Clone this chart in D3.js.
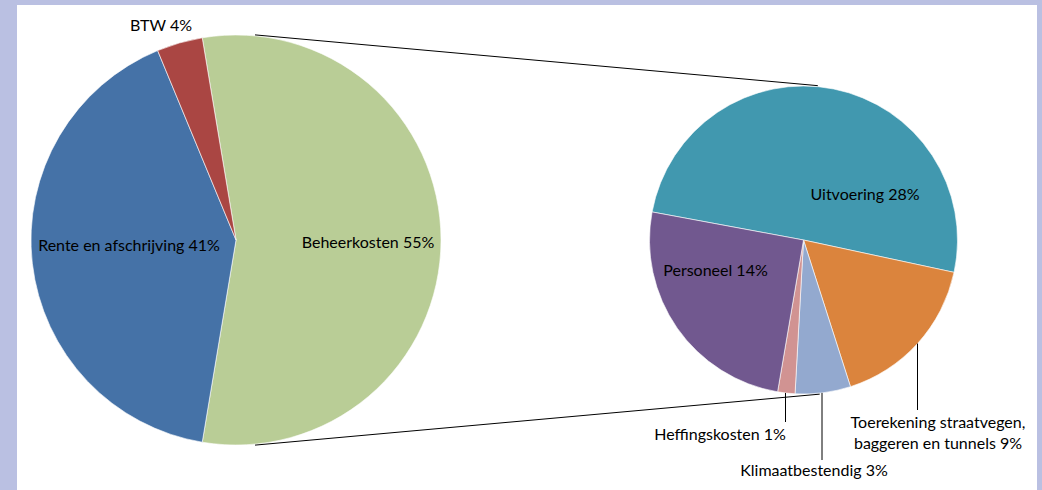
<!DOCTYPE html>
<html>
<head>
<meta charset="utf-8">
<title>Pie of pie</title>
<style>
  html, body { margin: 0; padding: 0; background: #bac0e2; }
  svg { display: block; }
  .lbl { font-family: Lato, "Open Sans", sans-serif; font-size: 16px; fill: #000; }
  .lead { stroke: #000; stroke-width: 1px; fill: none; }
</style>
</head>
<body>
<div id="chart"></div>
<script src="https://cdn.jsdelivr.net/npm/d3@7"></script>
<script>

// main pie
var mainNames = ["Beheerkosten", "Rente en afschrijving", "BTW"];
var mainPct = ["55%", "41%", "4%"];
// sub pie (split of Beheerkosten)
var subNames = ["Uitvoering", "Toerekening straatvegen, baggeren en tunnels", "Klimaatbestendig", "Heffingskosten", "Personeel"];
var subValues = [27.8, 9.2, 3.2, 1.0, 13.9];
var subPct = ["28%", "9%", "3%", "1%", "14%"];
var restValues = [41.0, 3.6];

var width = 1042, height = 490;
var mainColors = ["#b9cd96", "#4572a7", "#aa4643"];
var subColors = ["#4198af", "#db843d", "#93a9cf", "#d19392", "#71588f"];

var svg = d3.select("#chart").append("svg")
  .attr("width", width).attr("height", height);

svg.append("rect")
  .attr("x", 17).attr("y", 5)
  .attr("width", 1020).attr("height", height - 5)
  .attr("fill", "#fff");

var beheer = d3.sum(subValues);
var mainValues = [beheer].concat(restValues);
var total = d3.sum(mainValues);
var rad = Math.PI / 180;

var c1 = [236, 240], r1 = 205;
var c2 = [803.5, 240], r2 = 154;

var span = beheer / total * 2 * Math.PI;
var mainPie = d3.pie().sort(null).value(function(d) { return d; })
  .startAngle(Math.PI / 2 - span / 2)
  .endAngle(Math.PI / 2 - span / 2 + 2 * Math.PI);
var subPie = d3.pie().sort(null).value(function(d) { return d; })
  .startAngle(-79.5 * rad).endAngle(-79.5 * rad + 2 * Math.PI);

var arc1 = d3.arc().innerRadius(0).outerRadius(r1);
var arc2 = d3.arc().innerRadius(0).outerRadius(r2);

var g1 = svg.append("g").attr("transform", "translate(" + c1 + ")");
g1.selectAll("path").data(mainPie(mainValues)).enter().append("path")
  .attr("d", arc1)
  .attr("fill", function(d, i) { return mainColors[i]; })
  .attr("stroke", "#fff").attr("stroke-width", 0.6);

var g2 = svg.append("g").attr("transform", "translate(" + c2 + ")");
g2.selectAll("path").data(subPie(subValues)).enter().append("path")
  .attr("d", arc2)
  .attr("fill", function(d, i) { return subColors[i]; })
  .attr("stroke", "#fff").attr("stroke-width", 0.6);

// series lines
function pt(c, r, a) { return [c[0] + r * Math.sin(a), c[1] - r * Math.cos(a)]; }
var la = 5.3 * rad;
[[la, la], [Math.PI - la, Math.PI - 6 * rad]].forEach(function(p) {
  var a = pt(c1, r1 + 1, p[0]), b = pt(c2, r2 + 1, p[1]);
  svg.append("line").attr("class", "lead")
    .attr("x1", a[0]).attr("y1", a[1]).attr("x2", b[0]).attr("y2", b[1]);
});

// labels
function label(x, y, lines) {
  var t = svg.append("text").attr("class", "lbl").attr("text-anchor", "middle");
  lines.forEach(function(s, i) {
    t.append("tspan").attr("x", x).attr("y", y + i * 21).text(s);
  });
}
label(c1[0] - 75, 31, [mainNames[2] + " " + mainPct[2]]);
label(c1[0] - 107, 251, [mainNames[1] + " " + mainPct[1]]);
label(c1[0] + 132, 248, [mainNames[0] + " " + mainPct[0]]);

label(c2[0] + 61.5, 200, [subNames[0] + " " + subPct[0]]);
label(c2[0] - 88, 276, [subNames[4] + " " + subPct[4]]);

// leader lines for the small slices
function leader(x, yEnd) {
  var dx = x - c2[0];
  var y0 = c2[1] + Math.sqrt(r2 * r2 - dx * dx);
  svg.append("line").attr("class", "lead")
    .attr("x1", x).attr("y1", y0).attr("x2", x).attr("y2", yEnd);
}
leader(917.5, 410);
leader(822, 460);
leader(785.5, 422);
label(938, 428, ["Toerekening straatvegen,", "baggeren en tunnels " + subPct[1]]);
label(814, 476, [subNames[2] + " " + subPct[2]]);
label(720, 440, [subNames[3] + " " + subPct[3]]);

</script>
</body>
</html>
